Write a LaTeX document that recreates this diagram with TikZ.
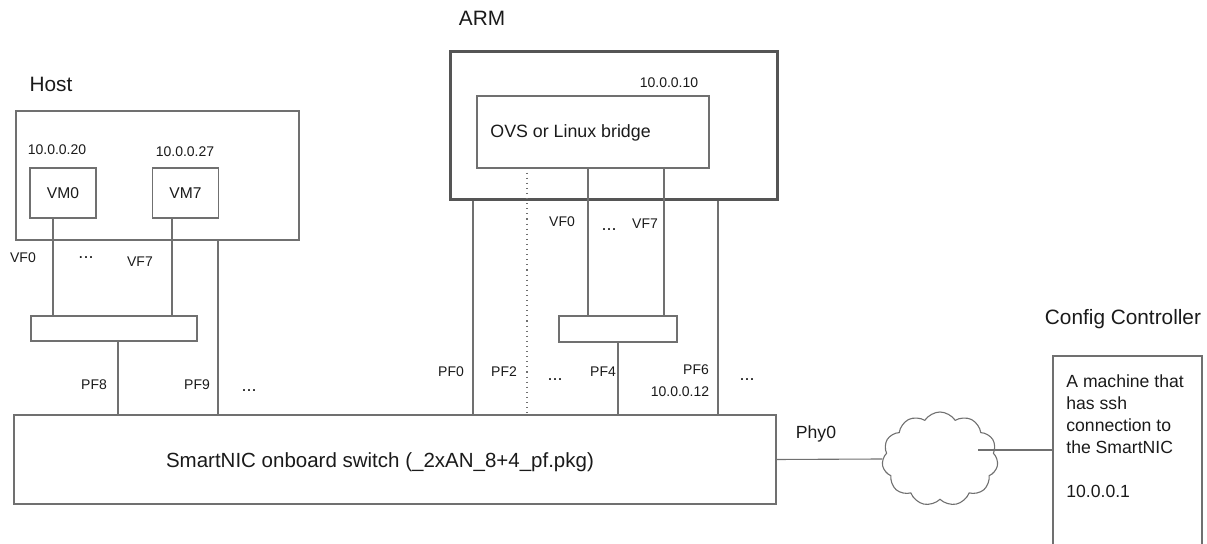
\documentclass[tikz,border=0pt]{standalone}
\usepackage{fontspec}
\setmainfont{Liberation Sans}
\usetikzlibrary{shapes.symbols}
\definecolor{linegray}{HTML}{707070}
\definecolor{armgray}{HTML}{555555}
\definecolor{txt}{HTML}{1A1A1A}
\tikzset{>=stealth,
  box/.style={draw=linegray, line width=0.55pt, inner sep=0pt},
  wire/.style={draw=linegray, line width=0.55pt},
  lbl/.style={inner sep=0pt, anchor=base, text=txt},
  big/.style={lbl, font=\fontsize{10.4}{12.5}\selectfont},
  mid/.style={lbl, font=\fontsize{8.8}{11}\selectfont},
  small/.style={lbl, font=\fontsize{7}{8.4}\selectfont},
  vmbox/.style={box, text=txt, font=\fontsize{7.8}{9}\selectfont, minimum width=33pt, minimum height=25pt},
  dots/.style={lbl, font=\fontsize{9}{10}\selectfont}
}

\begin{document}
\begin{tikzpicture}[x=0.5pt, y=-0.5pt]
    \useasboundingbox (0,0) rectangle (1207,544);

    \node[big] (hostlbl) at (51,92) {Host};
    \node[box, minimum width=141.5pt, minimum height=64.5pt] (host) at (157.5,175.5) {};
    \node[small] (ip20) at (57,155) {10.0.0.20};
    \node[small] (ip27) at (185,157) {10.0.0.27};
    \node[vmbox] (vm0) at (63,193) {VM0};
    \node[vmbox] (vm7) at (185.5,193) {VM7};
    \node[box, minimum width=83pt, minimum height=12.5pt] (hostsw) at (114,328.5) {};
    \node[small] (hvf0) at (23,263) {VF0};
    \node[dots] (hdots) at (86,259) {...};
    \node[small] (hvf7) at (140,267) {VF7};

    \node[big] (armlbl) at (482,26) {ARM};
    \node[draw=armgray, line width=1.5pt, inner sep=0pt, minimum width=163.5pt, minimum height=74pt] (arm) at (613.5,126) {};
    \node[small] (ip10) at (669,88) {10.0.0.10};
    \node[box, minimum width=116pt, minimum height=36pt] (bridge) at (593,132) {};
    \node[mid, anchor=base west, font=\fontsize{8.9}{11}\selectfont] (bridgelbl) at (490,138) {OVS or Linux bridge};
    \node[box, minimum width=59pt, minimum height=13pt] (armsw) at (618,329) {};
    \node[small] (avf0) at (562,227) {VF0};
    \node[dots] (adots) at (609,231) {...};
    \node[small] (avf7) at (645,229) {VF7};

    \node[box, minimum width=381pt, minimum height=44.5pt] (switch) at (395,459.5) {};
    \node[big, font=\fontsize{10.25}{12.5}\selectfont] (switchlbl) at (380,468) {SmartNIC onboard switch (\_2xAN\_8+4\_pf.pkg)};

    \node[small] (pf8) at (94,390) {PF8};
    \node[small] (pf9) at (197,390) {PF9};
    \node[dots] (pdots1) at (249,392) {...};
    \node[small] (pf0) at (451,377) {PF0};
    \node[small] (pf2) at (504,377) {PF2};
    \node[dots] (pdots2) at (555,381) {...};
    \node[small] (pf4) at (603,377) {PF4};
    \node[small] (pf6) at (696,375) {PF6};
    \node[small] (ip12) at (680,397) {10.0.0.12};
    \node[dots] (pdots3) at (747,381) {...};

    \node[mid] (phy0) at (816,439) {Phy0};
    \node[cloud, draw=linegray, line width=0.55pt, cloud puffs=11, cloud puff arc=115, aspect=1.25, inner sep=0pt, minimum width=58pt, minimum height=47pt] (cloud) at (940,459) {};
    \coordinate (cloudport) at ([xshift=19pt, yshift=4.5pt]cloud.center);

    \node[big] (cfglbl) at (1123,325) {Config Controller};
    \node[box, minimum width=74.5pt, minimum height=122pt] (config) at (1127.5,478) {};
    \node[mid, anchor=north west, align=left] (cfgtxt) at (1066,374) {A machine that\\has ssh\\connection to\\the SmartNIC\\[11pt]10.0.0.1};

    \draw[wire] ([xshift=-5pt]vm0.south) -- ([xshift=-5pt]vm0.south |- hostsw.north);
    \draw[wire] ([xshift=-6.75pt]vm7.south) -- ([xshift=-6.75pt]vm7.south |- hostsw.north);
    \draw[wire] ([xshift=2pt]hostsw.south) -- ([xshift=2pt]hostsw.south |- switch.north);
    \draw[wire] ([xshift=30.25pt]host.south) -- ([xshift=30.25pt]host.south |- switch.north);

    \draw[wire] ([xshift=-70.25pt]arm.south) -- ([xshift=-70.25pt]arm.south |- switch.north);
    \draw[wire] ([xshift=52.25pt]arm.south) -- ([xshift=52.25pt]arm.south |- switch.north);
    \draw[wire] ([xshift=-2.5pt]bridge.south) -- ([xshift=-2.5pt]bridge.south |- armsw.north);
    \draw[wire] ([xshift=35.5pt]bridge.south) -- ([xshift=35.5pt]bridge.south |- armsw.north);
    \draw[wire] (armsw.south) -- (armsw.south |- switch.north);
    \draw[wire, dotted] ([xshift=-33pt, yshift=-2pt]bridge.south) -- ([xshift=-33pt]bridge.south |- switch.north);

    \draw[wire] (switch.east) -- (cloud.west);
    \draw[wire] (cloudport) -- (cloudport -| config.west);
\end{tikzpicture}
\end{document}
